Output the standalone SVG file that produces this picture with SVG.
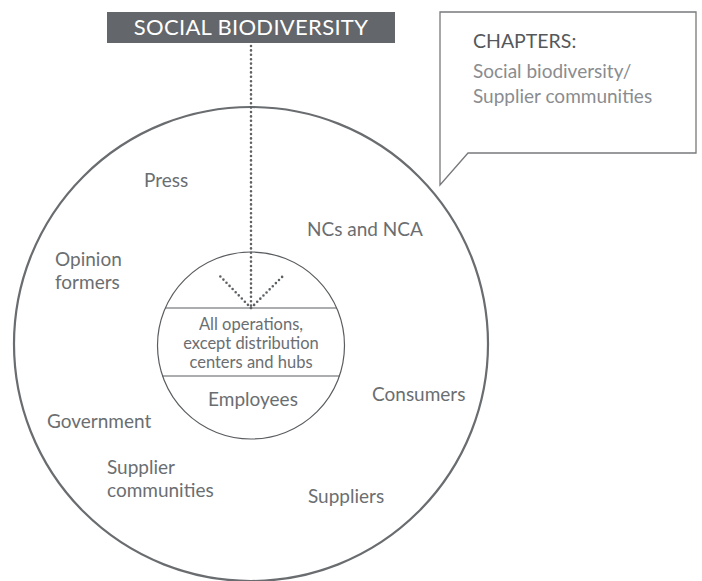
<svg xmlns="http://www.w3.org/2000/svg" width="702" height="581" viewBox="0 0 702 581">
  <style>
    .lbl { font-family: Lato, "Liberation Sans", sans-serif; font-size: 19px; fill: #6b6e71; }
    .inner { font-family: Lato, "Liberation Sans", sans-serif; font-size: 16.5px; fill: #6b6e71; text-anchor: middle; }
    .dots { fill: none; stroke: #5e6164; stroke-width: 2.6; stroke-linecap: round; stroke-dasharray: 0 4.4; }
  </style>
  <rect width="702" height="581" fill="#ffffff"/>

  <!-- stakeholder ring -->
  <g id="outer-ring">
    <circle cx="251" cy="344" r="237" fill="none" stroke="#6a6d70" stroke-width="2.2"/>
  </g>

  <!-- core: operations and employees -->
  <g id="core">
    <circle cx="251" cy="345.5" r="93.5" fill="#ffffff" stroke="#5a5d60" stroke-width="1.2"/>
    <line x1="165" y1="308" x2="337" y2="308" stroke="#5a5d60" stroke-width="1.2"/>
    <line x1="162" y1="376" x2="340" y2="376" stroke="#5a5d60" stroke-width="1.2"/>
    <text class="inner" x="251" y="330">All operations,</text>
    <text class="inner" x="251" y="349">except distribution</text>
    <text class="inner" x="251" y="368">centers and hubs</text>
    <text class="lbl" x="253" y="406" text-anchor="middle">Employees</text>
  </g>

  <!-- theme header -->
  <g id="header">
    <rect x="107" y="12" width="288" height="31" fill="#63666a"/>
    <text x="251" y="35" text-anchor="middle" font-family="Lato, 'Liberation Sans', sans-serif" font-size="22" letter-spacing="0.3" fill="#ffffff">SOCIAL BIODIVERSITY</text>
  </g>

  <!-- chapters callout -->
  <g id="callout">
    <path d="M440,12 H696 V153 H468 L440,185 Z" fill="#ffffff" stroke="#77797c" stroke-width="1.3"/>
    <text x="473" y="48" font-family="Lato, 'Liberation Sans', sans-serif" font-size="19.5" fill="#55585b">CHAPTERS:</text>
    <text x="473" y="78" font-family="Lato, 'Liberation Sans', sans-serif" font-size="19" fill="#8a8c8f">Social biodiversity/</text>
    <text x="473" y="103" font-family="Lato, 'Liberation Sans', sans-serif" font-size="19" fill="#8a8c8f">Supplier communities</text>
  </g>

  <!-- stakeholder labels -->
  <g id="press"><text class="lbl" x="144" y="187">Press</text></g>
  <g id="ncs"><text class="lbl" x="307" y="236">NCs and NCA</text></g>
  <g id="opinion-formers">
    <text class="lbl" x="55" y="266">Opinion</text>
    <text class="lbl" x="55" y="289">formers</text>
  </g>
  <g id="consumers"><text class="lbl" x="372" y="401">Consumers</text></g>
  <g id="government"><text class="lbl" x="47" y="428">Government</text></g>
  <g id="supplier-communities">
    <text class="lbl" x="107" y="474">Supplier</text>
    <text class="lbl" x="107" y="497">communities</text>
  </g>
  <g id="suppliers"><text class="lbl" x="308" y="503">Suppliers</text></g>

  <!-- dotted connectors -->
  <g id="connectors">
    <path class="dots" d="M251,46 V308"/>
    <path class="dots" d="M251,308 L218,274"/>
    <path class="dots" d="M251,308 L285,274"/>
  </g>
</svg>
